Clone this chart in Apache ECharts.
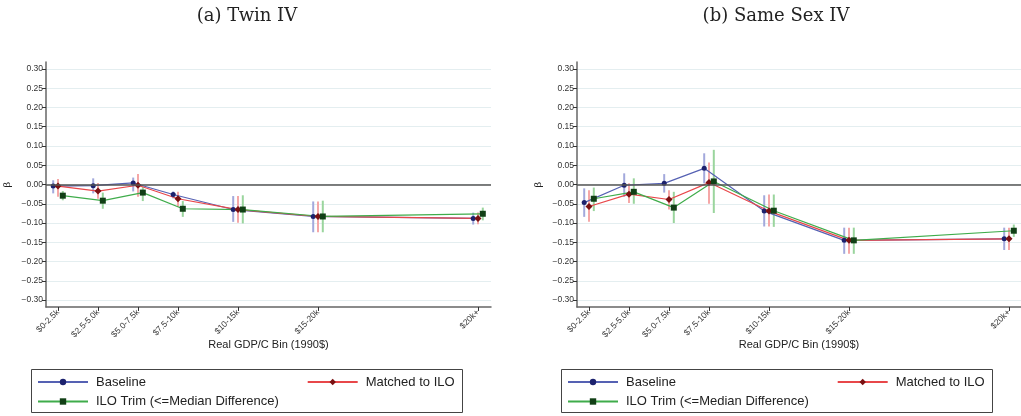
<!DOCTYPE html>
<html>
<head>
<meta charset="utf-8">
<script src="https://cdn.jsdelivr.net/npm/echarts@6/dist/echarts.min.js"></script>
<style>
html,body{margin:0;padding:0;background:#fff;}
#c{width:1021px;height:416px;}
</style>
</head>
<body>
<div id="c"></div>
<script>
// ---- data ----
const binLabels = ['$0-2.5k', '$2.5-5.0k', '$5.0-7.5k', '$7.5-10k', '$10-15k', '$15-20k', '$20k+'];
const binPos = [1.25, 3.75, 6.25, 8.75, 12.5, 17.5, 27.5];
const yTicks = [-0.30, -0.25, -0.20, -0.15, -0.10, -0.05, 0, 0.05, 0.10, 0.15, 0.20, 0.25, 0.30];
const seriesNames = ['Baseline', 'Matched to ILO', 'ILO Trim (<=Median Difference)'];
const panelTitles = ['(a) Twin IV', '(b) Same Sex IV'];

// Twin IV
const twinBase   = [-0.004, -0.003, 0.004, -0.026, -0.065, -0.083, -0.088];
const twinBaseLo = [-0.023, -0.023, -0.018, -0.036, -0.097, -0.124, -0.104];
const twinBaseHi = [0.011, 0.016, 0.018, -0.018, -0.030, -0.044, -0.073];
const twinMatch   = [-0.004, -0.017, -0.002, -0.037, -0.065, -0.083, -0.088];
const twinMatchLo = [-0.032, -0.037, -0.032, -0.058, -0.099, -0.124, -0.103];
const twinMatchHi = [0.014, 0.004, 0.027, -0.019, -0.030, -0.044, -0.073];
const twinTrim   = [-0.029, -0.042, -0.021, -0.063, -0.065, -0.083, -0.076];
const twinTrimLo = [-0.041, -0.063, -0.043, -0.084, -0.101, -0.124, -0.093];
const twinTrimHi = [-0.017, -0.021, -0.006, -0.043, -0.028, -0.042, -0.060];

// Same Sex IV
const sameBase   = [-0.047, -0.002, 0.003, 0.042, -0.069, -0.145, -0.141];
const sameBaseLo = [-0.084, -0.032, -0.021, 0.003, -0.109, -0.180, -0.170];
const sameBaseHi = [-0.010, 0.029, 0.027, 0.081, -0.028, -0.112, -0.112];
const sameMatch   = [-0.057, -0.025, -0.039, 0.005, -0.069, -0.145, -0.141];
const sameMatchLo = [-0.097, -0.048, -0.065, -0.050, -0.109, -0.180, -0.170];
const sameMatchHi = [-0.015, 0.003, -0.015, 0.057, -0.026, -0.112, -0.112];
const sameTrim   = [-0.037, -0.019, -0.060, 0.008, -0.068, -0.145, -0.120];
const sameTrimLo = [-0.069, -0.050, -0.100, -0.074, -0.110, -0.180, -0.136];
const sameTrimHi = [-0.008, 0.016, -0.019, 0.090, -0.026, -0.112, -0.104];

// ---- styles ----
const styles = [
  {line: '#5561b3', mark: '#1c226e', ci: '#a3a9dc', symbol: 'circle', size: 5, off: -0.3},
  {line: '#e8474a', mark: '#7a1012', ci: '#f5a7a7', symbol: 'diamond', size: 7, off: 0},
  {line: '#3fac4b', mark: '#113f16', ci: '#9ad59d', symbol: 'rect', size: 6, off: 0.3}
];
const FONT = 'Liberation Sans, Arial, sans-serif';

const panels = [
  {vals: [twinBase, twinMatch, twinTrim], lo: [twinBaseLo, twinMatchLo, twinTrimLo], hi: [twinBaseHi, twinMatchHi, twinTrimHi]},
  {vals: [sameBase, sameMatch, sameTrim], lo: [sameBaseLo, sameMatchLo, sameTrimLo], hi: [sameBaseHi, sameMatchHi, sameTrimHi]}
];
const gridLefts = [46, 577];
const gridWidths = [445, 444];

function fmtY(v) {
  if (Math.abs(v) < 1e-9) return '0.00';
  return (v < 0 ? '\u2212' : '') + Math.abs(v).toFixed(2);
}
function fmtX(v) {
  for (let i = 0; i < binPos.length; i++) if (Math.abs(binPos[i] - v) < 1e-6) return binLabels[i];
  return '';
}

const grids = [], xAxes = [], yAxes = [], series = [], legends = [], graphics = [];
panels.forEach((p, pi) => {
  grids.push({left: gridLefts[pi], top: 62, width: gridWidths[pi], height: 245, containLabel: false});
  xAxes.push({
    type: 'value', gridIndex: pi, min: 0.5, max: 0.5 + gridWidths[pi] / 16,
    name: 'Real GDP/C Bin (1990$)', nameLocation: 'middle', nameGap: 32, nameMoveOverlap: false,
    nameTextStyle: {fontFamily: FONT, fontSize: 11, color: '#222'},
    axisLine: {show: true, onZero: false, lineStyle: {color: '#666', width: 1.5}},
    axisTick: {show: true, length: 4, customValues: binPos, lineStyle: {color: '#333'}},
    axisLabel: {customValues: binPos, formatter: fmtX, rotate: 45, margin: 4, fontSize: 8.5, fontFamily: FONT, color: '#333'},
    splitLine: {show: false}
  });
  yAxes.push({
    type: 'value', gridIndex: pi, min: -0.318, max: 0.318,
    name: '\u03b2', nameLocation: 'middle', nameGap: 34, nameRotate: 90, nameMoveOverlap: false,
    nameTextStyle: {fontFamily: 'DejaVu Serif, serif', fontSize: 10, color: '#222'},
    axisLine: {show: true, onZero: false, lineStyle: {color: '#666', width: 1.5}},
    axisTick: {show: true, length: 4, customValues: yTicks, lineStyle: {color: '#333'}},
    axisLabel: {customValues: yTicks, formatter: fmtY, margin: 3, fontSize: 8.5, fontFamily: FONT, color: '#333'},
    splitLine: {show: true, lineStyle: {color: '#e4eef0', width: 1}}
  });
  // error bars
  styles.forEach((st, si) => {
    const s = {
      type: 'custom', xAxisIndex: pi, yAxisIndex: pi, silent: true,
      encode: {x: 0, y: [1, 2]},
      data: binPos.map((x, i) => [x + st.off, p.lo[si][i], p.hi[si][i]]),
      renderItem: (params, api) => {
        const a = api.coord([api.value(0), api.value(1)]);
        const b = api.coord([api.value(0), api.value(2)]);
        return {type: 'line', shape: {x1: a[0], y1: a[1], x2: b[0], y2: b[1]}, style: {stroke: st.ci, lineWidth: 2}};
      },
      z: 1
    };
    if (si === 0) {
      s.markLine = {silent: true, symbol: 'none', label: {show: false},
        lineStyle: {color: '#555', width: 1.5, type: 'solid'}, data: [{yAxis: 0}]};
    }
    series.push(s);
  });
  styles.forEach((st, si) => {
    series.push({
      type: 'line', name: seriesNames[si], xAxisIndex: pi, yAxisIndex: pi,
      data: binPos.map((x, i) => [x + st.off, p.vals[si][i]]),
      symbol: st.symbol, symbolSize: st.size, showSymbol: true,
      lineStyle: {color: st.line, width: 1.2},
      itemStyle: {color: st.mark},
      z: 3
    });
  });
  const dx = pi === 0 ? 0 : 530;
  legends.push({data: [seriesNames[0]], left: 37 + dx, top: 375});
  legends.push({data: [seriesNames[1]], left: 306.7 + dx, top: 375});
  legends.push({data: [seriesNames[2]], left: 37 + dx, top: 394.5});
  graphics.push({type: 'rect', shape: {x: 31.5 + dx, y: 369.5, width: 431, height: 43},
    style: {fill: 'none', stroke: '#444', lineWidth: 1}, silent: true});
});
legends.forEach(l => Object.assign(l, {
  padding: 0, itemWidth: 50, itemHeight: 8, selectedMode: false,
  textStyle: {fontFamily: FONT, fontSize: 13, color: '#222', lineHeight: 14, padding: [0, 0, 0, 3]}
}));
graphics.push({type: 'text', x: 247, y: 16, style: {text: panelTitles[0], textAlign: 'center', textVerticalAlign: 'middle', font: '18px "DejaVu Serif", serif', fill: '#222'}});
graphics.push({type: 'text', x: 776, y: 16, style: {text: panelTitles[1], textAlign: 'center', textVerticalAlign: 'middle', font: '18px "DejaVu Serif", serif', fill: '#222'}});

const chart = echarts.init(document.getElementById('c'), null, {renderer: 'canvas'});
chart.setOption({
  animation: false,
  backgroundColor: '#fff',
  grid: grids, xAxis: xAxes, yAxis: yAxes, series: series, legend: legends, graphic: graphics
});
</script>
</body>
</html>
